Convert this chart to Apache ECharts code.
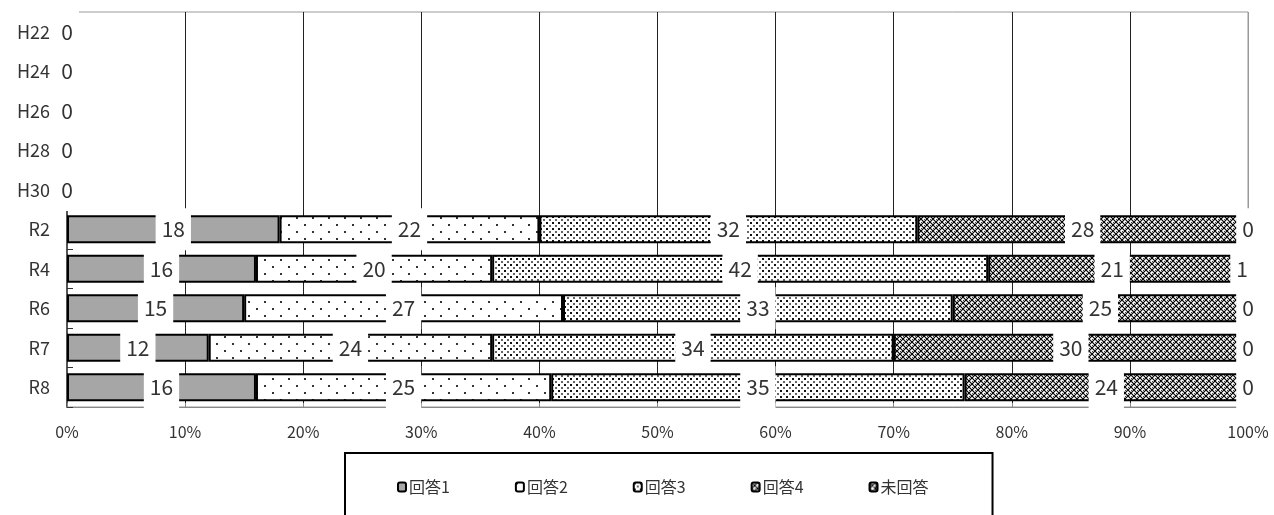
<!DOCTYPE html>
<html>
<head>
<meta charset="utf-8">
<script src="https://cdn.jsdelivr.net/npm/echarts@6/dist/echarts.min.js"></script>
<style>
html,body{margin:0;padding:0;background:#fff;}
#chart{width:1274px;height:515px;}
</style>
</head>
<body>
<div id="chart"></div>
<script>
// ---- data ----
const categories = ['H22', 'H24', 'H26', 'H28', 'H30', 'R2', 'R4', 'R6', 'R7', 'R8'];
const seriesNames = ['回答1', '回答2', '回答3', '回答4', '未回答'];
const answer1  = [0, 0, 0, 0, 0, 18, 16, 15, 12, 16];
const answer2  = [0, 0, 0, 0, 0, 22, 20, 27, 24, 25];
const answer3  = [0, 0, 0, 0, 0, 32, 42, 33, 34, 35];
const answer4  = [0, 0, 0, 0, 0, 28, 21, 25, 30, 24];
const noAnswer = [0, 0, 0, 0, 0, 0, 1, 0, 0, 0];
const seriesData = [answer1, answer2, answer3, answer4, noAnswer];
const axisMin = 0, axisMax = 100, axisStep = 10;

// ---- patterns ----
function pattern(w, h, draw) {
  const c = document.createElement('canvas');
  c.width = w; c.height = h;
  const g = c.getContext('2d');
  g.fillStyle = '#fff';
  g.fillRect(0, 0, w, h);
  draw(g);
  return { image: c, repeat: 'repeat' };
}
const fills = [
  '#a6a6a6',
  pattern(16, 14, g => {
    g.fillStyle = '#333';
    g.fillRect(0, 0, 2, 2);
    g.fillRect(8, 7, 2, 2);
  }),
  pattern(6, 6, g => {
    g.fillStyle = '#111';
    g.fillRect(0, 0, 2, 2);
    g.fillStyle = '#666';
    g.fillRect(3, 3, 2, 2);
  }),
  pattern(6, 6, g => {
    g.strokeStyle = '#000';
    g.lineWidth = 1.2;
    g.beginPath();
    g.moveTo(0, 0); g.lineTo(6, 6);
    g.moveTo(6, 0); g.lineTo(0, 6);
    g.stroke();
    g.fillStyle = '#444';
    g.fillRect(0, 3, 1, 1);
    g.fillRect(3, 0, 1, 1);
  }),
  pattern(6, 6, g => {
    g.strokeStyle = '#000';
    g.lineWidth = 1.2;
    g.beginPath();
    g.moveTo(0, 0); g.lineTo(6, 6);
    g.moveTo(6, 0); g.lineTo(0, 6);
    g.moveTo(0.5, 0); g.lineTo(0.5, 6);
    g.stroke();
  })
];

const FONT = "'Noto Sans CJK JP', sans-serif";

const gridColors = [];
for (let v = axisMin; v <= axisMax; v += axisStep) gridColors.push(v === axisMax ? '#999' : '#222');

const chart = echarts.init(document.getElementById('chart'), null, { renderer: 'canvas' });
chart.setOption({
  animation: false,
  backgroundColor: '#fff',
  grid: {
    left: 67, right: 26, top: 12, bottom: 108,
    show: true, borderColor: '#999', borderWidth: 1, backgroundColor: 'transparent'
  },
  legend: {
    left: 345, top: 453,
    data: seriesNames,
    orient: 'horizontal',
    itemWidth: 8, itemHeight: 9, itemGap: 65,
    borderColor: '#000', borderWidth: 2,
    padding: [26, 64, 34, 52],
    textStyle: { fontFamily: FONT, fontSize: 16, color: '#333', padding: [0, 0, 0, -2] }
  },
  xAxis: {
    type: 'value', min: axisMin, max: axisMax, interval: axisStep,
    axisLine: { show: true, lineStyle: { color: '#888', width: 1 } },
    axisTick: { show: true, inside: true, length: 4, lineStyle: { color: '#888' } },
    axisLabel: { formatter: '{value}%', margin: 17, fontFamily: FONT, fontSize: 16, color: '#333' },
    splitLine: { show: true, lineStyle: { color: gridColors, width: 1 } }
  },
  yAxis: {
    type: 'category', data: categories, inverse: true,
    axisLine: { show: true, lineStyle: { color: '#555', width: 2 } },
    axisTick: { show: true, inside: true, length: 6, lineStyle: { color: '#333' } },
    axisLabel: { margin: 17, fontFamily: FONT, fontSize: 18, color: '#333' },
    splitLine: { show: false }
  },
  series: seriesNames.map((name, i) => ({
    name: name,
    type: 'bar',
    stack: 'total',
    barWidth: 28,
    data: seriesData[i],
    itemStyle: { color: fills[i], borderColor: '#000', borderWidth: 2 },
    label: {
      show: true, position: 'inside',
      fontFamily: FONT, fontSize: 21, color: '#333',
      backgroundColor: '#fff', padding: [11, 6], lineHeight: 20
    }
  }))
});
</script>
</body>
</html>
